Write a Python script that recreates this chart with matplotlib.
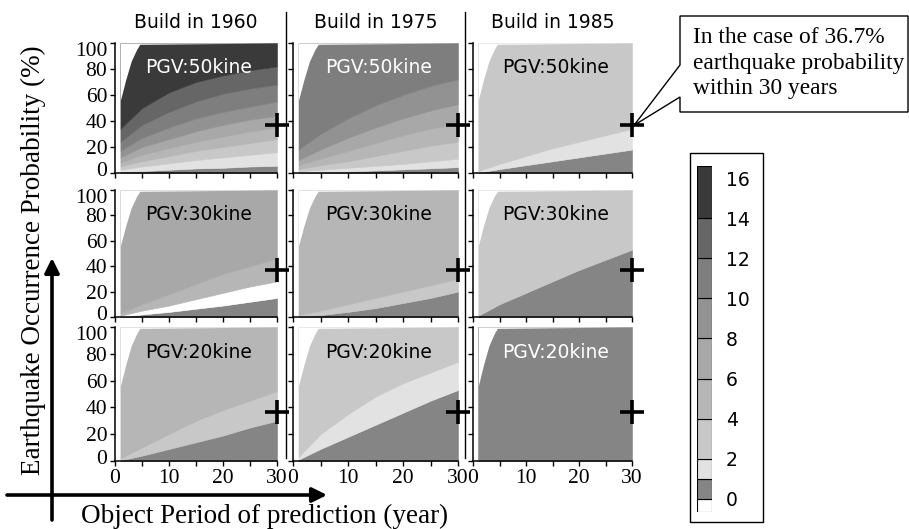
import numpy as np
import matplotlib.pyplot as plt
import matplotlib.transforms as mtrans
from matplotlib.patches import Rectangle, Polygon

plt.rcParams['font.family'] = ['Liberation Serif', 'DejaVu Serif']

# legend classes and their printed shades
legend_edges = [-0.65, 0, 1, 2, 4, 6, 8, 10, 12, 14, 16.6]
legend_ticks = [0, 2, 4, 6, 8, 10, 12, 14, 16]
shades = ['#ffffff', '#858585', '#e2e2e2', '#c8c8c8', '#b6b6b6',
          '#a8a8a8', '#929292', '#7e7e7e', '#666666', '#3a3a3a']

years = ['1960', '1975', '1985']
pgv = ['50', '30', '20']

# object period (year) where the band limits were read
period = [1, 5, 10, 15, 20, 25, 30]
# upper-left limit of the computed region
cover_x = [1, 2, 3, 4, 4.6, 30]
cover_y = [56, 72, 86, 95, 99, 100]

target_period = 30
quake_prob = 36.7

# band upper limits (probability %) read at each period, and band class value
bounds_1960_50 = [[1, 1.5, 2.5, 3.5, 4, 5, 5.5],
                  [2.5, 5, 7.5, 10, 12, 14, 16],
                  [5, 9, 13, 17, 20, 23, 26],
                  [8, 14, 19, 24, 28, 32, 35],
                  [12, 20, 26, 32, 37, 41, 44],
                  [17, 27, 35, 42, 47, 51, 55],
                  [24, 37, 47, 55, 61, 65, 68],
                  [34, 50, 62, 70, 75, 79, 82]]
class_1960_50 = [0.5, 1.5, 3, 5, 7, 9, 11, 13, 15]

bounds_1975_50 = [[0.5, 0.8, 1.2, 2, 2.8, 3.6, 4.5],
                  [1.5, 2.5, 4, 5.5, 7, 9, 11],
                  [3, 6, 9, 13, 17, 21, 24],
                  [6, 11, 17, 23, 29, 34, 38],
                  [10, 18, 27, 35, 42, 48, 53],
                  [18, 30, 42, 52, 60, 67, 72]]
class_1975_50 = [0.5, 1.5, 3, 5, 7, 9, 11]

bounds_1985_50 = [[0.4, 3, 6, 9, 12, 15, 18],
                  [1.5, 7, 13, 19, 24, 29, 34]]
class_1985_50 = [0.5, 1.5, 3]

bounds_1960_30 = [[0.3, 2, 4, 6.5, 9, 12, 15],
                  [1, 5, 9, 14, 19, 24, 28],
                  [3, 10, 18, 26, 34, 40, 46]]
class_1960_30 = [0.5, -0.3, 5, 7]

bounds_1975_30 = [[0.3, 1.5, 4, 7, 11, 15, 20],
                  [1.5, 5, 10, 15, 20, 25, 30]]
class_1975_30 = [0.5, 3, 5]

bounds_1985_30 = [[1, 10, 19, 28, 37, 45, 53]]
class_1985_30 = [0.5, 3]

bounds_1960_20 = [[0.5, 4, 9, 14, 19, 25, 30],
                  [2, 10, 20, 30, 38, 45, 52]]
class_1960_20 = [0.5, 3, 5]

bounds_1975_20 = [[1, 9, 18, 27, 36, 45, 53],
                  [3, 20, 35, 48, 58, 66, 74]]
class_1975_20 = [0.5, 1.5, 3]

bounds_1985_20 = []
class_1985_20 = [0.5]

panels = {
    ('1960', '50'): (bounds_1960_50, class_1960_50),
    ('1975', '50'): (bounds_1975_50, class_1975_50),
    ('1985', '50'): (bounds_1985_50, class_1985_50),
    ('1960', '30'): (bounds_1960_30, class_1960_30),
    ('1975', '30'): (bounds_1975_30, class_1975_30),
    ('1985', '30'): (bounds_1985_30, class_1985_30),
    ('1960', '20'): (bounds_1960_20, class_1960_20),
    ('1975', '20'): (bounds_1975_20, class_1975_20),
    ('1985', '20'): (bounds_1985_20, class_1985_20),
}
white_text = [('1960', '50'), ('1975', '50'), ('1985', '20')]


def shade_of(v):
    i = np.searchsorted(legend_edges, v) - 1
    return shades[i]


W, H = 909, 529
fig = plt.figure(figsize=(W / 100, H / 100), dpi=100)


def px_axes(l, t, r, b):
    return fig.add_axes([l / W, 1 - b / H, (r - l) / W, (b - t) / H])


def nudge(label, dy_px):
    label.set_transform(label.get_transform() +
                        mtrans.ScaledTranslation(0, dy_px / 100, fig.dpi_scale_trans))


col_px = [(115, 277), (293, 458), (473, 632)]
row_px = [(43, 173), (190, 317), (327, 461)]

axes = {}
for r, p in enumerate(pgv):
    for c, yr in enumerate(years):
        ax = px_axes(col_px[c][0], row_px[r][0], col_px[c][1], row_px[r][1])
        axes[(yr, p)] = ax
        bounds, classes = panels[(yr, p)]
        lower = np.zeros(len(period))
        for upper, v in zip(bounds + [[100] * len(period)], classes):
            col = shade_of(v)
            ax.fill_between(period, lower, upper, color=col, ec=col, lw=0.4)
            lower = np.asarray(upper)
        ax.fill_between(cover_x, cover_y, 100, color='white', lw=0, zorder=2)

        ax.plot(target_period, quake_prob, marker='+', ms=17, mew=2.6,
                color='black', clip_on=False, zorder=6)
        ax.text(15.5, 81, 'PGV:%skine' % p, ha='center', va='center',
                fontsize=13.5, family='DejaVu Sans', zorder=5,
                color='white' if (yr, p) in white_text else 'black')

        ax.set_xlim(0, 30)
        ax.set_ylim(0, 100)
        for s in ['top', 'right']:
            ax.spines[s].set_visible(False)
        for s in ['left', 'bottom']:
            ax.spines[s].set_linewidth(1.1)
            ax.spines[s].set_zorder(4)
        ax.set_xticks(range(0, 31, 5))
        ax.set_yticks(range(0, 101, 20))
        ax.tick_params(direction='out', length=3.5, width=1, labelsize=15.5, pad=2)
        if r == 2:
            ax.set_xticklabels(['0', '', '10', '', '20', '', '30'])
        else:
            ax.set_xticklabels([])
        if c != 0:
            ax.set_yticklabels([])
        else:
            ylabs = ax.get_yticklabels()
            nudge(ylabs[-1], -6)
            nudge(ylabs[0], 4)
        ax.set_facecolor('none')

# column titles and separators
for c, yr in enumerate(years):
    fig.text((col_px[c][0] + col_px[c][1]) / 2 / W, 1 - 22 / H, 'Build in ' + yr,
             ha='center', va='center', fontsize=13.5, family='DejaVu Sans')
for x in [286, 465]:
    fig.add_artist(plt.Line2D([x / W, x / W], [1 - 12 / H, 1 - 458 / H],
                              color='black', lw=1.0))

# axis labels with arrows
fig.text(33 / W, 1 - 260 / H, 'Earthquake Occurrence Probability (%)',
         rotation=90, ha='center', va='center', fontsize=19.5)
fig.text(265 / W, 1 - 516 / H, 'Object Period of prediction (year)',
         ha='center', va='center', fontsize=19.5)
arrow = dict(arrowstyle='-|>', lw=2.6, color='black', mutation_scale=22,
             shrinkA=0, shrinkB=0)
fig.add_artist(plt.Annotation('', xy=(327, H - 495), xytext=(7, H - 495),
                              xycoords='figure pixels', arrowprops=arrow))
fig.add_artist(plt.Annotation('', xy=(52, H - 258), xytext=(52, H - 520),
                              xycoords='figure pixels', arrowprops=arrow))

# callout pointing at the 1985 / 50kine marker
tip = axes[('1985', '50')].transData.transform((target_period, quake_prob))
tip = (tip[0] + 2, tip[1])
call = [(680, H - 16), (908, H - 16), (908, H - 112), (680, H - 112),
        (680, H - 97), tip, (680, H - 65)]
fig.add_artist(Polygon([(x / W, y / H) for x, y in call], closed=True,
                       transform=fig.transFigure, fc='white', ec='black', lw=1.0))
fig.text(693 / W, 1 - 63 / H,
         'In the case of 36.7%\nearthquake probability\nwithin 30 years',
         ha='left', va='center', fontsize=16.8, linespacing=1.28)

# legend
fig.add_artist(Rectangle((690 / W, 1 - 522 / H), 73 / W, 369 / H,
                         transform=fig.transFigure, fc='none', ec='black',
                         lw=1.0, zorder=5))
cax = px_axes(697, 166, 712, 512)
edges = np.array(legend_edges)
cax.bar(0, np.diff(edges), bottom=edges[:-1], width=1, color=shades,
        edgecolor='black', linewidth=0.8)
cax.set_xlim(-0.5, 0.5)
cax.set_ylim(edges[0], edges[-1])
cax.set_xticks([])
cax.yaxis.tick_right()
cax.set_yticks(legend_ticks)
cax.tick_params(length=0, pad=10, labelsize=13.5)
for t in cax.get_yticklabels():
    t.set_family('DejaVu Sans')
for s in cax.spines.values():
    s.set_visible(False)

fig.savefig('out.png', dpi=100)
